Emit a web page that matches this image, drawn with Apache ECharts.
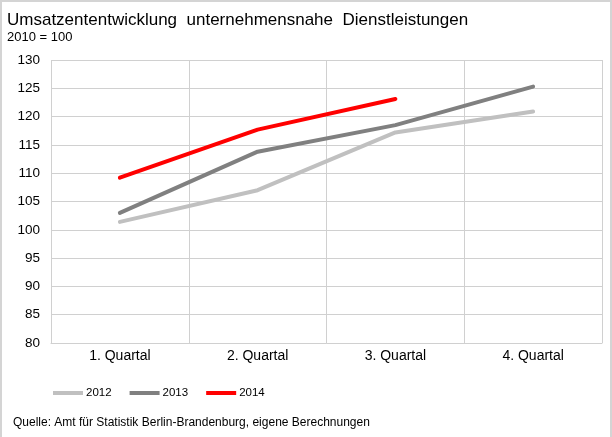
<!DOCTYPE html>
<html><head><meta charset="utf-8">
<script src="https://cdn.jsdelivr.net/npm/echarts@6/dist/echarts.min.js"></script>
<style>
html,body{margin:0;padding:0;background:#fff;}
#c{width:612px;height:437px;box-sizing:border-box;border:2px solid #d4d4d4;border-bottom:none;}
</style></head><body>
<div id="c"></div>
<script>
const categories = ['1. Quartal','2. Quartal','3. Quartal','4. Quartal'];
const seriesNames = ['2012','2013','2014'];
const values2012 = [101.4, 107.0, 117.2, 120.9];
const values2013 = [103.0, 113.8, 118.5, 125.3];
const values2014 = [109.2, 117.7, 123.1, null];
const yTicks = [80, 85, 90, 95, 100, 105, 110, 115, 120, 125, 130];
const colors = ['#c0c0c0', '#808080', '#ff0000'];

const chart = echarts.init(document.getElementById('c'));
const font = 'Liberation Sans, Arial, sans-serif';
const mk = (name, data, color) => ({
  name, type: 'line', data, symbol: 'none', smooth: false,
  lineStyle: { color, width: 4, cap: 'round', join: 'round' },
  itemStyle: { color }, connectNulls: false
});
chart.setOption({
  animation: false,
  textStyle: { fontFamily: font },
  title: [
    { text: 'Umsatzententwicklung  unternehmensnahe  Dienstleistungen', left: 0, top: 5,
      textStyle: { fontSize: 17, fontWeight: 'normal', color: '#000', fontFamily: font } },
    { text: '2010 = 100', left: 0, top: 24,
      textStyle: { fontSize: 13, fontWeight: 'normal', color: '#000', fontFamily: font } },
    { text: 'Quelle: Amt für Statistik Berlin-Brandenburg, eigene Berechnungen', left: 6, top: 410,
      textStyle: { fontSize: 12, fontWeight: 'normal', color: '#000', fontFamily: font } }
  ],
  legend: {
    left: 46, top: 380, itemWidth: 30, itemHeight: 4, itemGap: 18,
    icon: 'rect',
    data: seriesNames,
    textStyle: { fontSize: 11.5, color: '#000', fontFamily: font, padding: [0,0,0,-2] }
  },
  grid: { left: 49, right: 8, top: 58, bottom: 94, containLabel: false },
  xAxis: {
    type: 'category', data: categories, boundaryGap: true,
    axisLine: { show: true, lineStyle: { color: '#d0d0d0', width: 1 } },
    axisTick: { show: false },
    splitLine: { show: true, lineStyle: { color: '#d0d0d0', width: 1 } },
    axisLabel: { fontSize: 14, color: '#000', margin: 6, fontFamily: font }
  },
  yAxis: {
    type: 'value', min: yTicks[0], max: yTicks[yTicks.length-1], interval: 5,
    axisLine: { show: false }, axisTick: { show: false },
    splitLine: { lineStyle: { color: '#d0d0d0', width: 1 } },
    axisLabel: { fontSize: 13.5, color: '#000', margin: 11, fontFamily: font }
  },
  series: [
    mk(seriesNames[0], values2012, colors[0]),
    mk(seriesNames[1], values2013, colors[1]),
    mk(seriesNames[2], values2014, colors[2])
  ]
});
</script>
</body></html>
